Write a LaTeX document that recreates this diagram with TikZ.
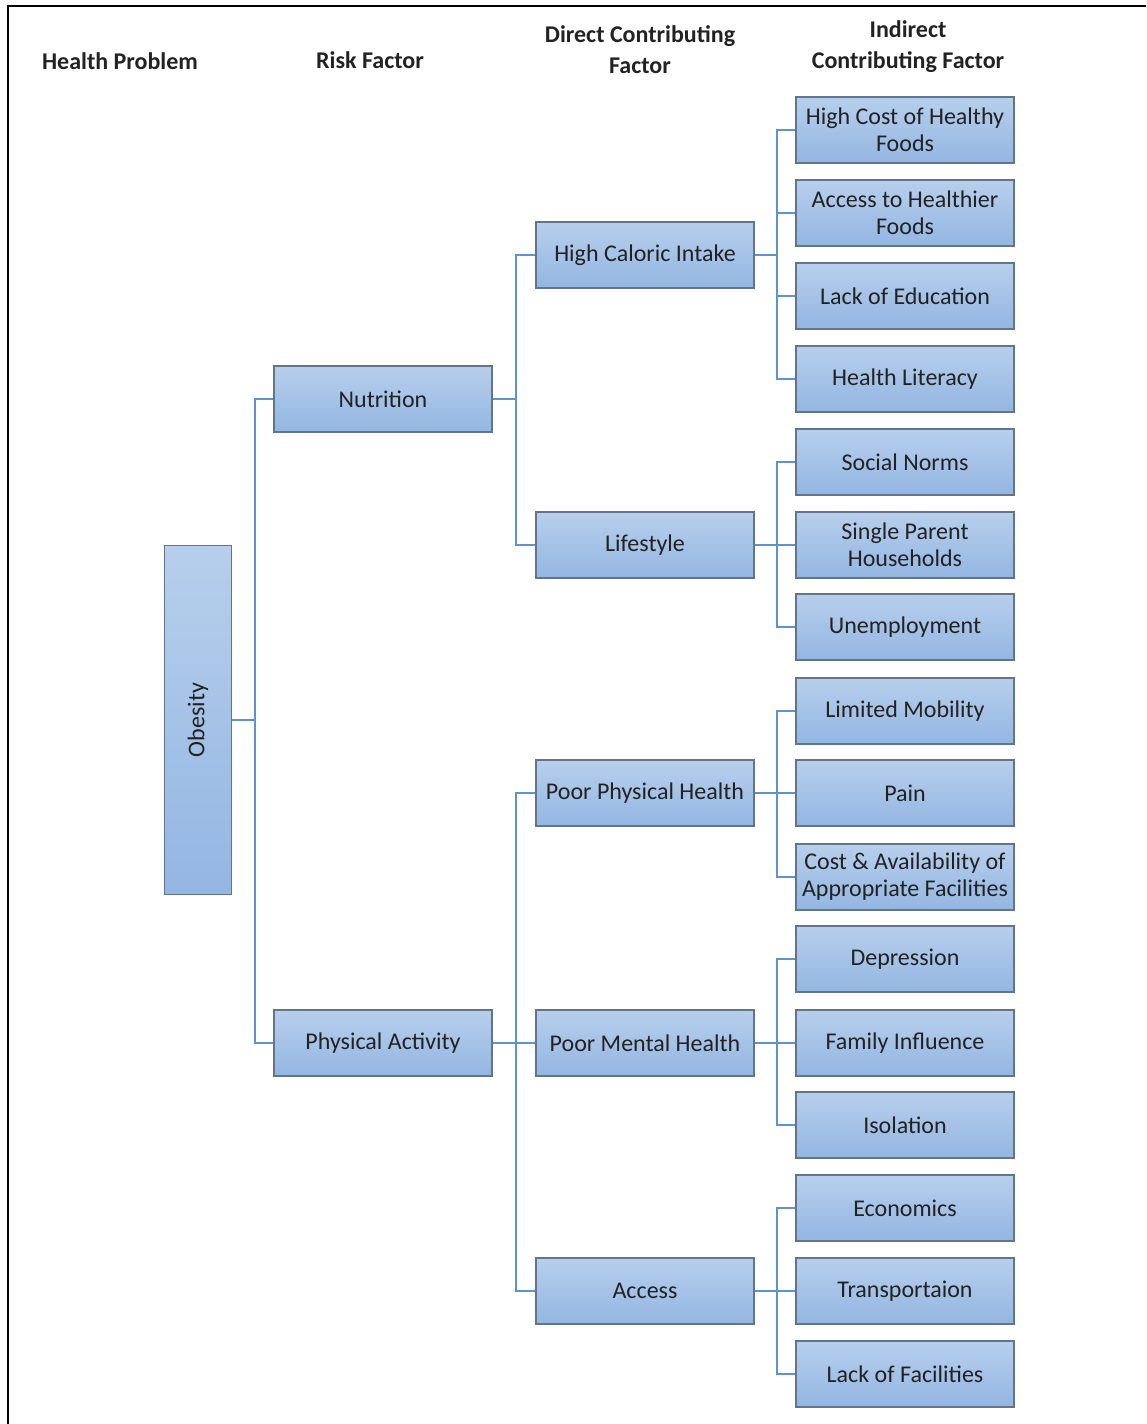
\documentclass[tikz,border=0pt]{standalone}
\usepackage{fontspec}
\setmainfont{Carlito}
\usepackage{tikz}
\usetikzlibrary{positioning}

\definecolor{boxtop}{HTML}{B7CFEC}
\definecolor{boxbot}{HTML}{93B6E2}
\definecolor{boxline}{HTML}{62758C}
\definecolor{linkblue}{HTML}{5F93CB}
\definecolor{txt}{HTML}{222222}

\begin{document}
\begin{tikzpicture}[
  x=0.5pt,
  y=-0.5pt,
  box/.style={draw=boxline,line width=0.7pt,top color=boxtop,bottom color=boxbot,
    minimum width=109pt,minimum height=33pt,inner sep=0pt,align=center,
    text=txt,font=\fontsize{12}{13.5}\selectfont},
  head/.style={align=center,text=txt,font=\bfseries\fontsize{12}{15.5}\selectfont},
  link/.style={draw=linkblue,line width=0.8pt}
]
  \useasboundingbox (0,0) rectangle (1146,1424);
  \draw[line width=1pt] (8,1424) -- (8,6) -- (1146,6);

  % column heads
  \node[head] (h1) at (120,61) {Health Problem};
  \node[head] (h2) at (370,60) {Risk Factor};
  \node[head] (h3) at (640,50) {Direct Contributing\\Factor};
  \node[head] (h4) at (908,47) {Indirect\\Contributing Factor};

  % health problem
  \node[box,minimum width=33.5pt,minimum height=174.5pt] (obesity) at (198,720)
    {\rotatebox{90}{Obesity}};

  % risk factors
  \node[box] (nutr) at (383,399) {Nutrition};
  \node[box] (phys) at (383,1043) {Physical Activity};

  % direct contributing factors
  \node[box] (caloric) at (645,255) {High Caloric Intake};
  \node[box] (life) at (645,545) {Lifestyle};
  \node[box] (physh) at (645,793) {Poor Physical Health};
  \node[box] (mental) at (645,1043) {Poor Mental Health};
  \node[box] (access) at (645,1291) {Access};

  % indirect contributing factors
  \node[box] (cost) at (905,130) {High Cost of Healthy\\Foods};
  \node[box] (healthier) at (905,213) {Access to Healthier\\Foods};
  \node[box] (educ) at (905,296) {Lack of Education};
  \node[box] (literacy) at (905,379) {Health Literacy};
  \node[box] (norms) at (905,462) {Social Norms};
  \node[box] (single) at (905,545) {Single Parent\\Households};
  \node[box] (unemp) at (905,627) {Unemployment};
  \node[box] (mobility) at (905,711) {Limited Mobility};
  \node[box] (pain) at (905,793) {Pain};
  \node[box] (facil) at (905,877) {Cost \& Availability of\\Appropriate Facilities};
  \node[box] (depress) at (905,959) {Depression};
  \node[box] (family) at (905,1043) {Family Influence};
  \node[box] (isolat) at (905,1125) {Isolation};
  \node[box] (econ) at (905,1208) {Economics};
  \node[box] (transp) at (905,1291) {Transportaion};
  \node[box] (lackfac) at (905,1374) {Lack of Facilities};

  % connectors
  \foreach \c in {nutr,phys}
    \draw[link] (obesity.east) -- ++(23,0) |- (\c.west);
  \foreach \c in {caloric,life}
    \draw[link] (nutr.east) -- ++(23,0) |- (\c.west);
  \foreach \c in {physh,mental,access}
    \draw[link] (phys.east) -- ++(23,0) |- (\c.west);
  \foreach \c in {cost,healthier,educ,literacy}
    \draw[link] (caloric.east) -- ++(22,0) |- (\c.west);
  \foreach \c in {norms,single,unemp}
    \draw[link] (life.east) -- ++(22,0) |- (\c.west);
  \foreach \c in {mobility,pain,facil}
    \draw[link] (physh.east) -- ++(22,0) |- (\c.west);
  \foreach \c in {depress,family,isolat}
    \draw[link] (mental.east) -- ++(22,0) |- (\c.west);
  \foreach \c in {econ,transp,lackfac}
    \draw[link] (access.east) -- ++(22,0) |- (\c.west);
\end{tikzpicture}
\end{document}
